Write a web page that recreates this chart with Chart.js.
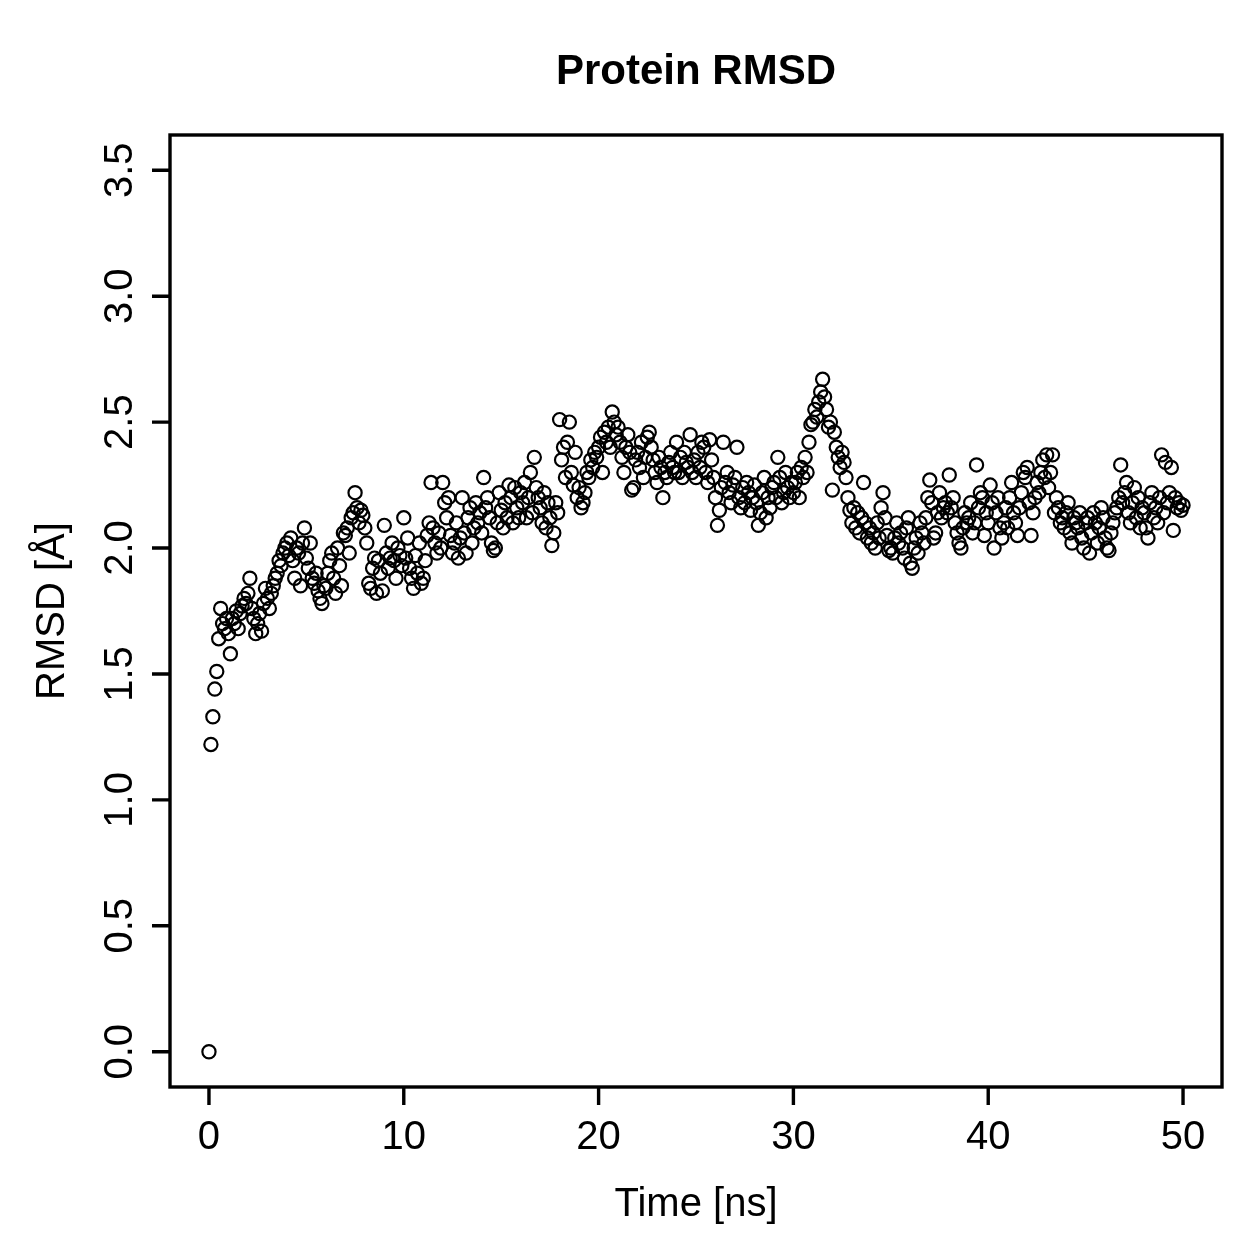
<!DOCTYPE html>
<html>
<head>
<meta charset="utf-8">
<title>Protein RMSD</title>
<script src="https://cdn.jsdelivr.net/npm/chart.js@4.4.1/dist/chart.umd.min.js"></script>
<style>
  html, body { margin: 0; padding: 0; background: #ffffff; }
  #wrap { width: 1259px; height: 1259px; }
</style>
</head>
<body>
<div id="wrap"><canvas id="rmsd-chart" width="1259" height="1259"></canvas></div>
<script>
// Muestreo de la trayectoria (ns entre fotogramas)
const timeStep = 0.1;

// RMSD [Å], un valor por fotograma (0 .. 50 ns)
const rmsd = [
  // 0-1 ns
  0.00, 1.22, 1.33, 1.44, 1.51, 1.64, 1.76, 1.70, 1.68, 1.72,
  // 1-2
  1.66, 1.58, 1.72, 1.70, 1.75, 1.68, 1.74, 1.77, 1.80, 1.78,
  // 2-3
  1.82, 1.88, 1.76, 1.72, 1.66, 1.70, 1.74, 1.67, 1.78, 1.84,
  // 3-4
  1.80, 1.76, 1.82, 1.85, 1.88, 1.90, 1.95, 1.93, 1.98, 2.00,
  // 4-5
  2.02, 1.97, 2.04, 1.95, 1.88, 2.00, 1.98, 1.85, 2.02, 2.08,
  // 5-6
  1.96, 1.92, 2.02, 1.88, 1.86, 1.90, 1.83, 1.80, 1.78, 1.85,
  // 6-7
  1.84, 1.90, 1.95, 1.98, 1.88, 1.82, 2.00, 1.93, 1.85, 2.06,
  // 7-8
  2.05, 2.08, 1.98, 2.12, 2.14, 2.22, 2.16, 2.10, 2.15, 2.13,
  // 8-9
  2.08, 2.02, 1.86, 1.84, 1.92, 1.96, 1.82, 1.95, 1.90, 1.83,
  // 9-10
  2.09, 1.98, 1.92, 1.96, 2.02, 1.95, 1.88, 2.00, 1.97, 1.93,
  // 10-11
  2.12, 1.96, 2.04, 1.92, 1.88, 1.84, 1.97, 1.90, 2.02, 1.86,
  // 11-12
  1.88, 1.95, 2.05, 2.10, 2.26, 2.08, 2.02, 1.98, 2.06, 2.00,
  // 12-13
  2.26, 2.18, 2.12, 2.20, 2.05, 1.98, 2.02, 2.10, 1.96, 2.04,
  // 13-14
  2.20, 2.06, 1.98, 2.12, 2.16, 2.02, 2.08, 2.18, 2.10, 2.14,
  // 14-15
  2.06, 2.28, 2.16, 2.20, 2.12, 2.02, 1.99, 2.00, 2.10, 2.22,
  // 15-16
  2.15, 2.08, 2.18, 2.12, 2.25, 2.20, 2.10, 2.24, 2.16, 2.12,
  // 16-17
  2.22, 2.18, 2.26, 2.12, 2.20, 2.30, 2.14, 2.36, 2.24, 2.20,
  // 17-18
  2.16, 2.10, 2.22, 2.08, 2.18, 2.12, 2.01, 2.06, 2.18, 2.14,
  // 18-19
  2.51, 2.35, 2.40, 2.28, 2.42, 2.50, 2.30, 2.25, 2.38, 2.20,
  // 19-20
  2.24, 2.16, 2.18, 2.22, 2.30, 2.28, 2.35, 2.32, 2.38, 2.36,
  // 20-21
  2.40, 2.44, 2.30, 2.46, 2.42, 2.48, 2.40, 2.54, 2.50, 2.45,
  // 21-22
  2.48, 2.42, 2.36, 2.30, 2.40, 2.45, 2.38, 2.23, 2.24, 2.35,
  // 22-23
  2.38, 2.32, 2.42, 2.28, 2.36, 2.44, 2.46, 2.40, 2.35, 2.30,
  // 23-24
  2.26, 2.36, 2.32, 2.20, 2.30, 2.28, 2.34, 2.38, 2.32, 2.30,
  // 24-25
  2.42, 2.30, 2.36, 2.28, 2.38, 2.34, 2.32, 2.45, 2.30, 2.35,
  // 25-26
  2.28, 2.38, 2.32, 2.42, 2.40, 2.30, 2.26, 2.43, 2.35, 2.28,
  // 26-27
  2.20, 2.09, 2.15, 2.24, 2.42, 2.26, 2.30, 2.22, 2.18, 2.25,
  // 27-28
  2.28, 2.40, 2.20, 2.16, 2.24, 2.18, 2.26, 2.22, 2.15, 2.20,
  // 28-29
  2.25, 2.18, 2.09, 2.14, 2.22, 2.28, 2.12, 2.20, 2.16, 2.24,
  // 29-30
  2.26, 2.20, 2.36, 2.28, 2.18, 2.22, 2.30, 2.24, 2.20, 2.26,
  // 30-31
  2.22, 2.26, 2.30, 2.20, 2.32, 2.28, 2.36, 2.30, 2.42, 2.49,
  // 31-32
  2.50, 2.55, 2.52, 2.58, 2.62, 2.67, 2.60, 2.55, 2.48, 2.50,
  // 32-33
  2.23, 2.46, 2.40, 2.36, 2.32, 2.38, 2.34, 2.28, 2.20, 2.15,
  // 33-34
  2.10, 2.16, 2.08, 2.14, 2.06, 2.12, 2.26, 2.10, 2.04, 2.08,
  // 34-35
  2.02, 2.06, 2.00, 2.10, 2.04, 2.16, 2.22, 2.12, 2.05, 1.99,
  // 35-36
  2.00, 1.98, 2.04, 2.10, 2.02, 2.06, 2.00, 1.96, 2.08, 2.12,
  // 36-37
  1.94, 1.92, 2.00, 2.04, 1.98, 2.10, 2.06, 2.02, 2.12, 2.20,
  // 37-38
  2.27, 2.18, 2.04, 2.06, 2.14, 2.22, 2.12, 2.16, 2.18, 2.14,
  // 38-39
  2.29, 2.16, 2.20, 2.10, 2.06, 2.02, 2.00, 2.08, 2.14, 2.10,
  // 39-40
  2.12, 2.18, 2.06, 2.10, 2.33, 2.16, 2.22, 2.20, 2.05, 2.14,
  // 40-41
  2.10, 2.25, 2.18, 2.00, 2.14, 2.20, 2.08, 2.04, 2.10, 2.16,
  // 41-42
  2.08, 2.20, 2.26, 2.14, 2.10, 2.05, 2.16, 2.22, 2.30, 2.28,
  // 42-43
  2.32, 2.18, 2.05, 2.14, 2.20, 2.26, 2.22, 2.30, 2.35, 2.28,
  // 43-44
  2.37, 2.24, 2.30, 2.37, 2.14, 2.20, 2.16, 2.10, 2.12, 2.08,
  // 44-45
  2.14, 2.18, 2.06, 2.02, 2.12, 2.10, 2.08, 2.14, 2.04, 2.00,
  // 45-46
  2.10, 2.12, 1.98, 2.06, 2.14, 2.10, 2.02, 2.08, 2.16, 2.12,
  // 46-47
  2.04, 2.00, 1.99, 2.06, 2.10, 2.14, 2.16, 2.20, 2.33, 2.18,
  // 47-48
  2.22, 2.26, 2.14, 2.10, 2.18, 2.24, 2.12, 2.20, 2.08, 2.16,
  // 48-49
  2.14, 2.08, 2.04, 2.18, 2.22, 2.12, 2.16, 2.10, 2.20, 2.37,
  // 49-50
  2.14, 2.34, 2.18, 2.22, 2.32, 2.07, 2.20, 2.16, 2.18, 2.15,
  // 50
  2.17
];

// Marcas de los ejes
const xTicks = [0, 10, 20, 30, 40, 50];
const yTicks = [0, 0.5, 1, 1.5, 2, 2.5, 3, 3.5];
const yTickLabels = ['0.0', '0.5', '1.0', '1.5', '2.0', '2.5', '3.0', '3.5'];

const chartTitle = 'Protein RMSD';
const xTitle = 'Time [ns]';
const yTitle = 'RMSD [Å]';

const points = rmsd.map((v, i) => ({ x: +(i * timeStep).toFixed(2), y: v }));

const FONT = '"Liberation Sans", Arial, Helvetica, sans-serif';

// Marco, marcas y textos al estilo de R base
const rAxesPlugin = {
  id: 'rAxes',
  afterDraw(chart) {
    const { ctx, chartArea: a, scales } = chart;
    const xs = scales.x, ys = scales.y;
    const tickLen = 18;
    ctx.save();
    ctx.strokeStyle = '#000';
    ctx.fillStyle = '#000';
    ctx.lineWidth = 3.4;
    ctx.strokeRect(a.left, a.top, a.right - a.left, a.bottom - a.top);

    // eje x
    ctx.beginPath();
    xTicks.forEach(t => {
      const px = xs.getPixelForValue(t);
      ctx.moveTo(px, a.bottom);
      ctx.lineTo(px, a.bottom + tickLen);
    });
    ctx.stroke();
    ctx.font = '40px ' + FONT;
    ctx.textAlign = 'center';
    ctx.textBaseline = 'alphabetic';
    xTicks.forEach(t => {
      ctx.fillText(String(t), xs.getPixelForValue(t), 1149);
    });

    // eje y
    ctx.beginPath();
    yTicks.forEach(t => {
      const py = ys.getPixelForValue(t);
      ctx.moveTo(a.left, py);
      ctx.lineTo(a.left - tickLen, py);
    });
    ctx.stroke();
    yTicks.forEach((t, i) => {
      const py = ys.getPixelForValue(t);
      ctx.save();
      ctx.translate(132, py);
      ctx.rotate(-Math.PI / 2);
      ctx.fillText(yTickLabels[i], 0, 0);
      ctx.restore();
    });

    // títulos
    ctx.fillText(xTitle, (a.left + a.right) / 2, 1216);
    ctx.save();
    ctx.translate(64, (a.top + a.bottom) / 2);
    ctx.rotate(-Math.PI / 2);
    ctx.fillText(yTitle, 0, 0);
    ctx.restore();

    ctx.font = 'bold 42px ' + FONT;
    ctx.fillText(chartTitle, (a.left + a.right) / 2, 84);
    ctx.restore();
  }
};

const ctxRmsd = document.getElementById('rmsd-chart').getContext('2d');
new Chart(ctxRmsd, {
  type: 'scatter',
  data: {
    datasets: [{
      data: points,
      pointStyle: 'circle',
      pointRadius: 6.6,
      pointBorderWidth: 2.2,
      pointBorderColor: '#000',
      pointBackgroundColor: 'rgba(0,0,0,0)',
      pointHoverRadius: 6.6
    }]
  },
  options: {
    responsive: false,
    devicePixelRatio: 1,
    animation: false,
    layout: { padding: { left: 170, top: 135, right: 37, bottom: 172 } },
    scales: {
      x: { type: 'linear', min: -2, max: 52, display: false },
      y: { type: 'linear', min: -0.14, max: 3.64, display: false }
    },
    plugins: {
      legend: { display: false },
      tooltip: { enabled: false }
    }
  },
  plugins: [rAxesPlugin]
});
</script>
</body>
</html>
